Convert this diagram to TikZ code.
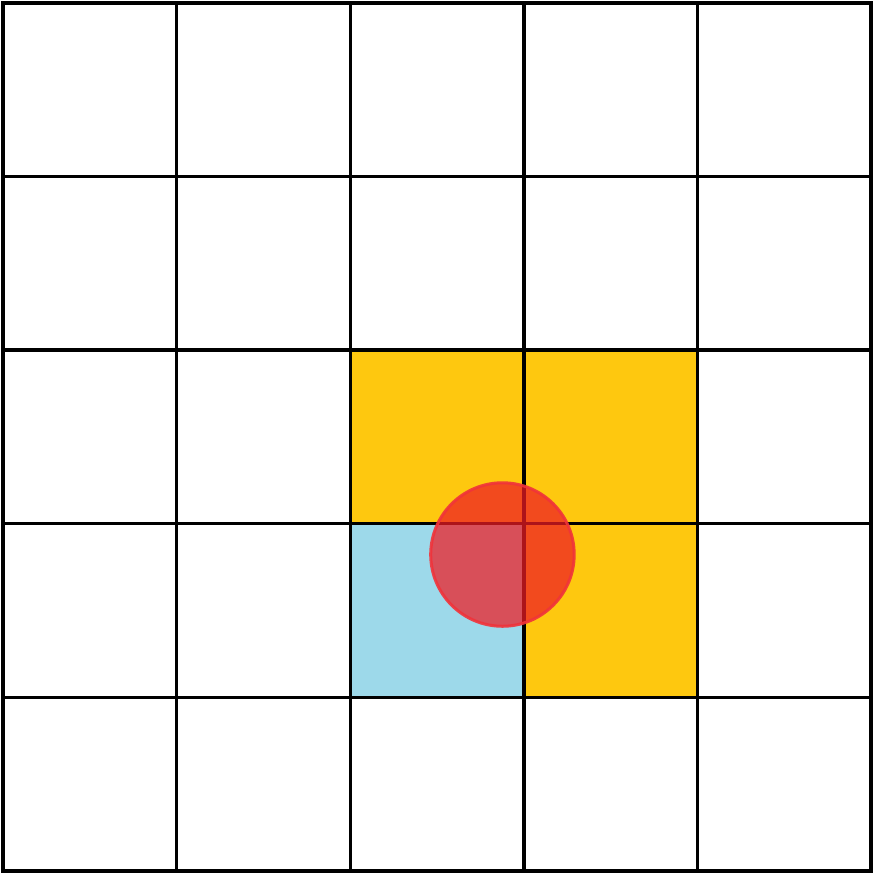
\documentclass[tikz,border=0pt]{standalone}
\usetikzlibrary{positioning}
\definecolor{cellyellow}{HTML}{FEC80F}
\definecolor{cellblue}{HTML}{9DD9EA}
\definecolor{markred}{HTML}{EE1C24}
\tikzset{
  gridline/.style={
    line width=3.4pt,
    draw=black,
    line cap=rect
  },
  hotcell/.style={
    fill=cellyellow
  },
  coldcell/.style={
    fill=cellblue
  },
  marker/.style={
    circle,
    minimum size=143.5pt,
    inner sep=0pt,
    fill=markred,
    fill opacity=0.73,
    draw=markred!90!white,
    draw opacity=0.9,
    line width=3pt
  }
}
\begin{document}
\begin{tikzpicture}[x=173.6pt,y=173.6pt]
  \useasboundingbox (-0.0173,-0.0173) rectangle (5.0173,5.0173);
  \fill[white] (-0.0173,-0.0173) rectangle (5.0173,5.0173);

  \fill[hotcell] (2,2) rectangle (4,3);
  \fill[hotcell] (3,1) rectangle (4,2);
  \fill[coldcell] (2,1) rectangle (3,2);

  \foreach \i in {0,...,5} {
    \draw[gridline] (\i,0) -- (\i,5);
    \draw[gridline] (0,\i) -- (5,\i);
  }

  \node[marker] (dot) at (2.877,1.823) {};
\end{tikzpicture}
\end{document}
